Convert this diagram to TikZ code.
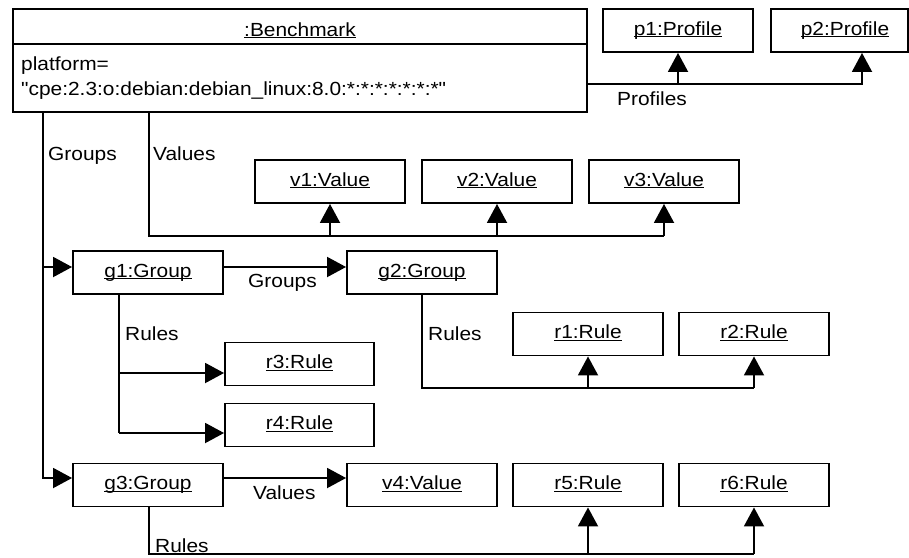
\documentclass[tikz,border=0pt]{standalone}
\usepackage{fontspec}
\setmainfont{Liberation Sans}[FakeStretch=1.1, Ligatures=TeXOff]
\usetikzlibrary{arrows.meta}
\newcommand\ulx[1]{\setbox0\hbox{#1}\rlap{\rule[-2.2pt]{\wd0}{1.1pt}}\box0}
\begin{document}
\begin{tikzpicture}[x=1pt,y=-1pt,
  every node/.style={font=\fontsize{19}{25}\selectfont, inner sep=0pt},
  obj/.style={draw, line width=1.9pt, minimum width=150pt, minimum height=43pt, text height=14pt, text depth=5pt},
  lbl/.style={anchor=west, text height=14pt, text depth=0pt},
  con/.style={line width=1.9pt},
  arr/.style={con, -{Triangle[length=19pt,width=20pt]}}]
\useasboundingbox (0,0) rectangle (909,557);
% Benchmark
\node[draw, line width=1.9pt, minimum width=574pt, minimum height=103pt] (bench) at (300,60.5) {};
\coordinate (div) at (0,44);
\draw[con] (bench.west |- div) -- (bench.east |- div);
\node[anchor=base] (btitle) at (300,36) {\ulx{:Benchmark}};
\node[anchor=base west] (battr1) at (21,70) {platform=};
\node[anchor=base west] (battr2) at (21,95) {"cpe:2.3:o:debian:debian\_linux:8.0:*:*:*:*:*:*:*"};
% objects
\node[obj] (p1) at (678,30.5) {\ulx{p1:Profile}};
\node[obj, minimum width=137pt] (p2) at (839.5,30.5) {\hspace*{11pt}\ulx{p2:Profile}};
\node[obj] (v1) at (330,181.5) {\ulx{v1:Value}};
\node[obj] (v2) at (497,181.5) {\ulx{v2:Value}};
\node[obj] (v3) at (664,181.5) {\ulx{v3:Value}};
\node[obj] (g1) at (148,272.5) {\ulx{g1:Group}};
\node[obj] (g2) at (422,272.5) {\ulx{g2:Group}};
\node[obj, minimum width=149pt] (r3) at (299.5,364) {\ulx{r3:Rule}};
\node[obj, minimum width=149pt] (r4) at (299.5,425) {\ulx{r4:Rule}};
\node[obj] (r1) at (588,334) {\ulx{r1:Rule}};
\node[obj] (r2) at (754,334) {\ulx{r2:Rule}};
\node[obj] (g3) at (148,485) {\ulx{g3:Group}};
\node[obj] (v4) at (422,485) {\ulx{v4:Value}};
\node[obj] (r5) at (588,485) {\ulx{r5:Rule}};
\node[obj] (r6) at (754,485) {\ulx{r6:Rule}};
% Profiles
\coordinate (pk) at (862,84);
\draw[arr] (bench.east |- pk) -- (pk) -- (pk |- p2.south);
\draw[arr] (p1.south |- pk) -- (p1.south);
\node[lbl] (lprof) at (617,98) {Profiles};
% Groups
\coordinate (ga) at (43,478);
\coordinate (gb) at (43,267);
\draw[arr] (ga |- bench.south) -- (ga) -- (ga -| g3.west);
\draw[arr] (gb) -- (gb -| g1.west);
\draw[arr] (gb -| g1.east) -- (gb -| g2.west);
\node[lbl] (lgr) at (48,153) {Groups};
\node[lbl] (lgr2) at (248,280) {Groups};
% Values of benchmark
\coordinate (va) at (149,236);
\draw[con] (va |- bench.south) -- (va) -- (va -| v3.south);
\draw[arr] (va -| v1.south) -- (v1.south);
\draw[arr] (va -| v2.south) -- (v2.south);
\draw[arr] (va -| v3.south) -- (v3.south);
\node[lbl] (lval) at (153,153) {Values};
% g1 rules
\coordinate (ra) at (119,433);
\coordinate (rb) at (119,373);
\draw[con] (ra |- g1.south) -- (ra);
\draw[arr] (ra) -- (ra -| r4.west);
\draw[arr] (rb) -- (rb -| r3.west);
\node[lbl] (lr1) at (125,333) {Rules};
% g2 rules
\coordinate (rc) at (422,388);
\draw[con] (g2.south) -- (rc) -- (rc -| r2.south);
\draw[arr] (rc -| r1.south) -- (r1.south);
\draw[arr] (rc -| r2.south) -- (r2.south);
\node[lbl] (lr2) at (428,333) {Rules};
% g3
\draw[arr] (ga -| g3.east) -- (ga -| v4.west);
\node[lbl] (lval2) at (253,492) {Values};
\coordinate (rd) at (149,554);
\draw[con] (rd |- g3.south) -- (rd) -- (rd -| r6.south);
\draw[arr] (rd -| r5.south) -- (r5.south);
\draw[arr] (rd -| r6.south) -- (r6.south);
\node[lbl] (lr3) at (155,545) {Rules};
\end{tikzpicture}
\end{document}
